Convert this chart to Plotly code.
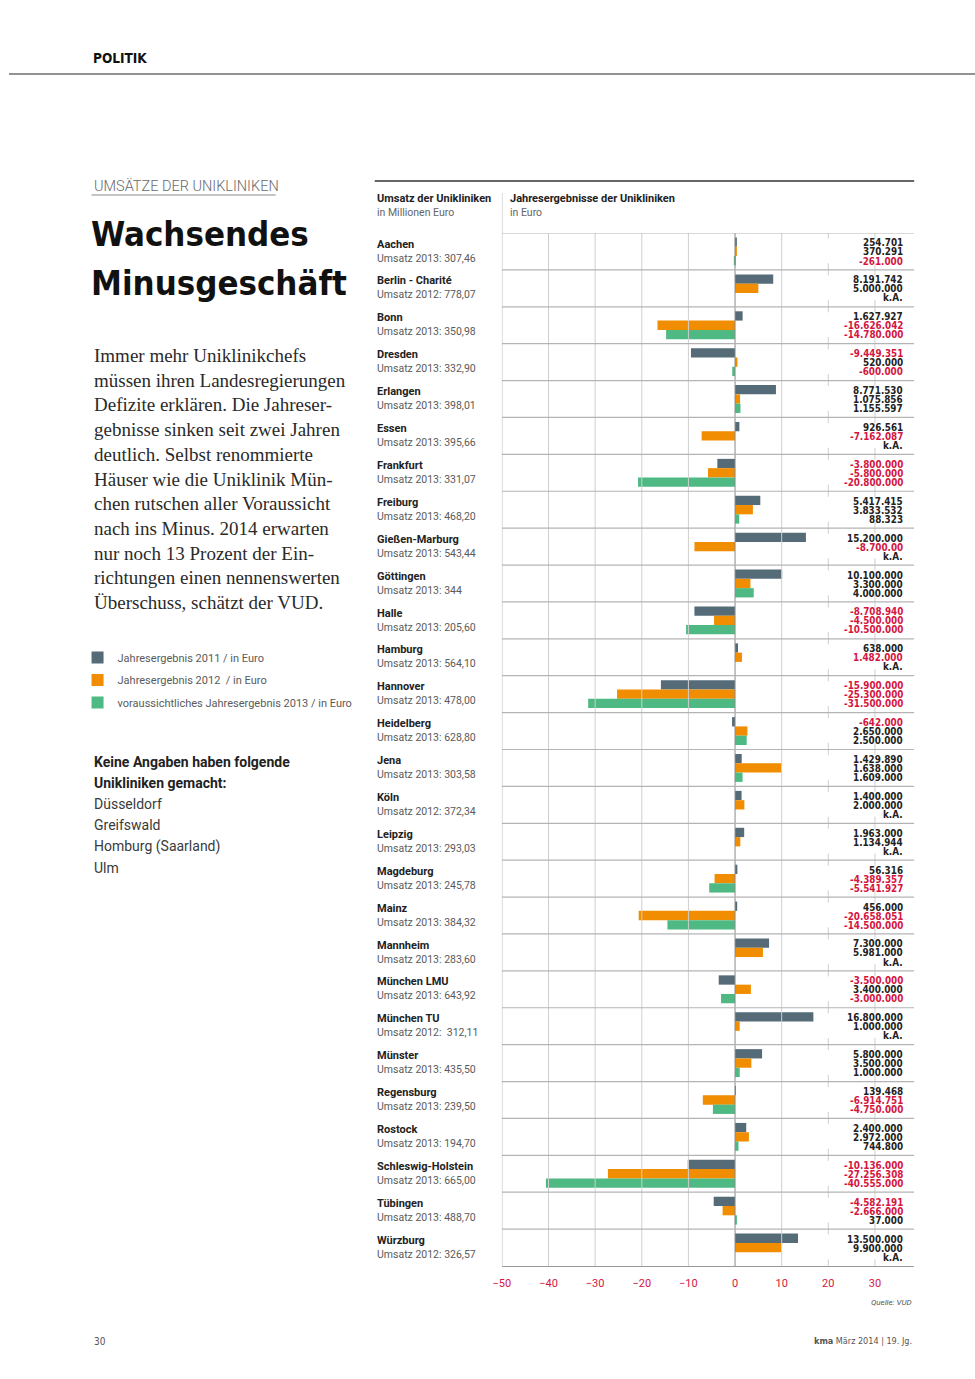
import plotly.graph_objects as go

# Umsätze und Jahresergebnisse der Unikliniken (kma März 2014)

kliniken = [
    "Aachen", "Berlin - Charité", "Bonn", "Dresden", "Erlangen", "Essen",
    "Frankfurt", "Freiburg", "Gießen-Marburg", "Göttingen", "Halle", "Hamburg",
    "Hannover", "Heidelberg", "Jena", "Köln", "Leipzig", "Magdeburg", "Mainz",
    "Mannheim", "München LMU", "München TU", "Münster", "Regensburg", "Rostock",
    "Schleswig-Holstein", "Tübingen", "Würzburg",
]
umsatz = [
    "Umsatz 2013: 307,46", "Umsatz 2012: 778,07", "Umsatz 2013: 350,98",
    "Umsatz 2013: 332,90", "Umsatz 2013: 398,01", "Umsatz 2013: 395,66",
    "Umsatz 2013: 331,07", "Umsatz 2013: 468,20", "Umsatz 2013: 543,44",
    "Umsatz 2013: 344", "Umsatz 2013: 205,60", "Umsatz 2013: 564,10",
    "Umsatz 2013: 478,00", "Umsatz 2013: 628,80", "Umsatz 2013: 303,58",
    "Umsatz 2012: 372,34", "Umsatz 2013: 293,03", "Umsatz 2013: 245,78",
    "Umsatz 2013: 384,32", "Umsatz 2013: 283,60", "Umsatz 2013: 643,92",
    "Umsatz 2012:  312,11", "Umsatz 2013: 435,50", "Umsatz 2013: 239,50",
    "Umsatz 2013: 194,70", "Umsatz 2013: 665,00", "Umsatz 2013: 488,70",
    "Umsatz 2012: 326,57",
]

# Balkenlängen in Mio. Euro (wie gezeichnet), None = k.A.
ergebnis_2011 = [0.25, 8.19, 1.63, -9.45, 8.77, 0.93, -3.8, 5.42, 15.2, 10.1,
                 -8.71, 0.64, -15.9, -0.64, 1.43, 1.4, 1.96, 0.5, 0.46, 7.3,
                 -3.5, 16.8, 5.8, 0.14, 2.4, -10.14, -4.58, 13.5]
ergebnis_2012 = [0.37, 5.0, -16.63, 0.52, 1.08, -7.16, -5.8, 3.83, -8.7, 3.3,
                 -4.5, 1.48, -25.3, 2.65, 10.0, 2.0, 1.13, -4.39, -20.66, 5.98,
                 3.4, 1.0, 3.5, -6.91, 2.97, -27.26, -2.67, 9.9]
ergebnis_2013 = [-0.26, None, -14.78, -0.6, 1.16, None, -20.8, 0.9, None, 4.0,
                 -10.5, None, -31.5, 2.5, 1.61, None, None, -5.54, -14.5, None,
                 -3.0, None, 1.0, -4.75, 0.74, -40.56, 0.4, None]

# Beschriftungen wie gedruckt
label_2011 = ["254.701", "8.191.742", "1.627.927", "-9.449.351", "8.771.530",
              "926.561", "-3.800.000", "5.417.415", "15.200.000", "10.100.000",
              "-8.708.940", "638.000", "-15.900.000", "-642.000", "1.429.890",
              "1.400.000", "1.963.000", "56.316", "456.000", "7.300.000",
              "-3.500.000", "16.800.000", "5.800.000", "139.468", "2.400.000",
              "-10.136.000", "-4.582.191", "13.500.000"]
label_2012 = ["370.291", "5.000.000", "-16.626.042", "520.000", "1.075.856",
              "-7.162.087", "-5.800.000", "3.833.532", "-8.700.00", "3.300.000",
              "-4.500.000", "1.482.000", "-25.300.000", "2.650.000", "1.638.000",
              "2.000.000", "1.134.944", "-4.389.357", "-20.658.051", "5.981.000",
              "3.400.000", "1.000.000", "3.500.000", "-6.914.751", "2.972.000",
              "-27.256.308", "-2.666.000", "9.900.000"]
label_2013 = ["-261.000", "k.A.", "-14.780.000", "-600.000", "1.155.597", "k.A.",
              "-20.800.000", "88.323", "k.A.", "4.000.000", "-10.500.000", "k.A.",
              "-31.500.000", "2.500.000", "1.609.000", "k.A.", "k.A.",
              "-5.541.927", "-14.500.000", "k.A.", "-3.000.000", "k.A.",
              "1.000.000", "-4.750.000", "744.800", "-40.555.000", "37.000", "k.A."]
# im Original zusätzlich rot gesetzt
rot_extra = [("Hamburg", 1)]

serien = ["Jahresergebnis 2011 / in Euro", "Jahresergebnis 2012  / in Euro",
          "voraussichtliches Jahresergebnis 2013 / in Euro"]
x_ticks = [-50, -40, -30, -20, -10, 0, 10, 20, 30]

keine_angaben = ["Düsseldorf", "Greifswald", "Homburg (Saarland)", "Ulm"]

body = ("Immer mehr Uniklinikchefs<br>müssen ihren Landesregierungen<br>"
        "Defizite erklären. Die Jahreser-<br>gebnisse sinken seit zwei Jahren<br>"
        "deutlich. Selbst renommierte<br>Häuser wie die Uniklinik Mün-<br>"
        "chen rutschen aller Voraussicht<br>nach ins Minus. 2014 erwarten<br>"
        "nur noch 13 Prozent der Ein-<br>richtungen einen nennenswerten<br>"
        "Überschuss, schätzt der VUD.")

W, H = 975, 1379
FARBEN = ["#566b78", "#f18d00", "#4fb983"]
ROT = "#d4163f"
DUNKEL = "#222222"
GRAU = "#5a5a5a"
SANS = "Roboto"
NARROW = "Noto Sans Condensed, DejaVu Sans Condensed, Liberation Sans Narrow, Roboto"

# Korrektur: im Foto lag die Seite etwas nach rechts versetzt
X_OFF, X_SC = 10.5, 0.99


def px(x):
    return max(0.0, (x - X_OFF) / X_SC) / W


def py(y):
    return 1 - y / H


n = len(kliniken)
bar_h = 0.252

fig = go.Figure()
for k, (werte, name) in enumerate(zip([ergebnis_2011, ergebnis_2012, ergebnis_2013], serien)):
    fig.add_trace(go.Bar(
        x=werte,
        y=[i + 0.5 + (k - 1) * bar_h for i in range(n)],
        width=bar_h,
        orientation="h",
        name=name,
        legendgroup=name,
        marker=dict(color=FARBEN[k], line=dict(width=0)),
        hoverinfo="skip",
    ))

shapes = []
# Gitterlinien
for t in x_ticks:
    if -50 < t <= 10:
        shapes.append(dict(type="line", xref="x", yref="y", x0=t, x1=t, y0=-0.2, y1=n,
                           line=dict(color="#8a8a8a" if t == 0 else "#cfcfcf", width=1)))
    elif t > 10:
        for i in range(n + 1):
            shapes.append(dict(type="line", xref="x", yref="y", x0=t, x1=t,
                               y0=i - 0.18, y1=i + 0.15,
                               line=dict(color="#cfcfcf", width=1)))
# Zeilentrenner
for i in range(n):
    shapes.append(dict(type="line", xref="x", yref="y", x0=-50, x1=38.42, y0=i, y1=i,
                       line=dict(color="#b4b4b4", width=1.2)))
# linke Achse / Spaltentrenner
shapes.append(dict(type="line", xref="x", yref="paper", x0=-50, x1=-50,
                   y0=py(1266), y1=py(193), line=dict(color="#b0b0b0", width=1)))
# Linien oben
shapes.append(dict(type="line", xref="paper", yref="paper", x0=0, x1=1,
                   y0=py(74), y1=py(74), line=dict(color="#6e6e6e", width=1.5)))
shapes.append(dict(type="line", xref="paper", yref="paper", x0=px(376), x1=px(915),
                   y0=py(181), y1=py(181), line=dict(color="#333333", width=1.6)))
shapes.append(dict(type="line", xref="paper", yref="paper", x0=px(93), x1=px(277),
                   y0=py(195), y1=py(195), line=dict(color="#8c8c8c", width=1.2)))

ann = []


def text(x, y, s, size, color=DUNKEL, family=SANS, anchor="left", yanchor="middle", **kw):
    ann.append(dict(xref="paper", yref="paper", x=px(x), y=py(y), text=s,
                    showarrow=False, xanchor=anchor, yanchor=yanchor, align=anchor,
                    font=dict(size=size, color=color, family=family, **kw)))


text(92, 58, "POLITIK", 13.5, "#111111", NARROW, weight="bold")
text(93, 187, "UMSÄTZE DER UNIKLINIKEN", 14.5, "#6a6a6a", SANS, weight=300)
text(90, 234, "Wachsendes", 34.5, "#111111", NARROW, weight="bold")
text(90, 283, "Minusgeschäft", 34.5, "#111111", NARROW, weight="bold")
text(93, 343, body, 19, "#2a2a2a", "Liberation Serif", yanchor="top")

text(93, 762, "<b>Keine Angaben haben folgende</b>", 14, DUNKEL)
text(93, 783, "<b>Unikliniken gemacht:</b>", 14, DUNKEL)
for j, s in enumerate(keine_angaben):
    text(93, 804 + j * 21.3, s, 14, "#3a3a3a")

text(376, 198, "<b>Umsatz der Unikliniken</b>", 11, DUNKEL)
text(376, 212, "in Millionen Euro", 10.5, "#666666")
text(509, 198, "<b>Jahresergebnisse der Unikliniken</b>", 11, DUNKEL)
text(509, 212, "in Euro", 10.5, "#666666")

text(915, 1302, "<i>Quelle: VUD</i>", 8, "#555555", anchor="right")
text(93, 1341, "30", 10, "#555555", NARROW)
text(915, 1341, "<b>kma</b> März 2014 | 19. Jg.", 9, "#555555", NARROW, anchor="right")

# Zeilenbeschriftungen
for i in range(n):
    ann.append(dict(xref="paper", yref="y", x=px(376), y=i + 0.3, text="<b>%s</b>" % kliniken[i],
                    showarrow=False, xanchor="left", yanchor="middle",
                    font=dict(size=11, color=DUNKEL, family=SANS)))
    ann.append(dict(xref="paper", yref="y", x=px(376), y=i + 0.68, text=umsatz[i],
                    showarrow=False, xanchor="left", yanchor="middle",
                    font=dict(size=10.5, color=GRAU, family=SANS)))
    for k, labels in enumerate([label_2011, label_2012, label_2013]):
        s = labels[i]
        rot = s.startswith("-") or (kliniken[i], k) in rot_extra
        ann.append(dict(xref="paper", yref="y", x=px(906), y=i + 0.27 + k * 0.245,
                        text=s, showarrow=False, xanchor="right", yanchor="middle",
                        font=dict(size=9.8, color=ROT if rot else DUNKEL, family=NARROW,
                                  weight=600)))

fig.update_layout(
    width=W, height=H,
    margin=dict(l=0, r=0, t=0, b=0),
    paper_bgcolor="white", plot_bgcolor="white",
    barmode="overlay",
    shapes=shapes,
    annotations=ann,
    showlegend=True,
    legend=dict(x=px(79), y=py(643), xanchor="left", yanchor="top",
                font=dict(size=11, color=GRAU, family=SANS),
                tracegroupgap=3.5, bgcolor="rgba(0,0,0,0)", borderwidth=0),
    xaxis=dict(domain=[px(503), px(915)], range=[-50, 38.42], tickvals=x_ticks,
               showgrid=False, zeroline=False, showline=True, linecolor="#9a9a9a",
               linewidth=1.2, ticks="outside", ticklen=7, tickcolor="rgba(0,0,0,0)",
               tickfont=dict(size=11, color=ROT, family=SANS), fixedrange=True),
    yaxis=dict(domain=[py(1266), py(233)], range=[n, -0.0001], showgrid=False,
               zeroline=False, showticklabels=False, fixedrange=True),
)

# Seitenrand und Scrollleisten des Browsers entfernen, damit die Seite 1:1 liegt
fig.write_html(
    "out.html",
    config={"displayModeBar": False},
    post_script="document.body.style.margin='0px';"
                "document.body.style.overflow='hidden';"
                "document.documentElement.style.overflow='hidden';",
)
